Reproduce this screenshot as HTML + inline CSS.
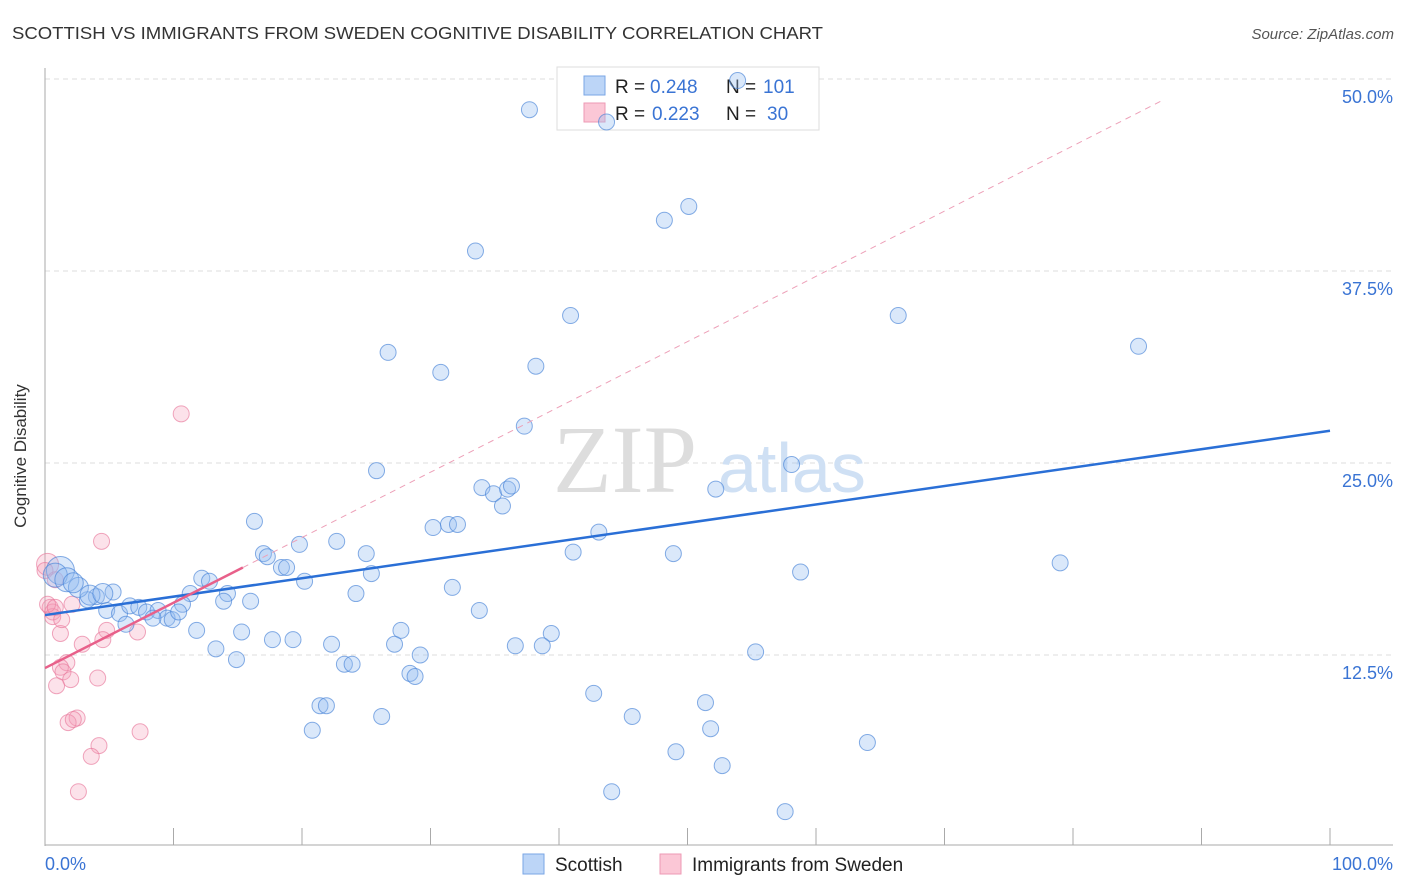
<!DOCTYPE html>
<html><head><meta charset="utf-8"><style>
body{margin:0;background:#fff;font-family:"Liberation Sans",sans-serif;}
svg{display:block}
</style></head><body>
<svg id="chart" width="1406" height="892" viewBox="0 0 1406 892">
<text x="12" y="39" font-size="17.5" fill="#333" textLength="811" lengthAdjust="spacingAndGlyphs">SCOTTISH VS IMMIGRANTS FROM SWEDEN COGNITIVE DISABILITY CORRELATION CHART</text>
<text x="1394" y="39" font-size="15" fill="#555" font-style="italic" text-anchor="end">Source: ZipAtlas.com</text>
<g id="grid"></g>
<g><text x="553" y="492" font-size="96" font-family="Liberation Serif" fill="#ddd">ZIP</text><text x="718" y="492" font-size="70" fill="#cfe0f4">atlas</text></g>
<line x1="45" y1="68" x2="45" y2="846" stroke="#aaa"/>
<line x1="45" y1="845" x2="1393" y2="845" stroke="#aaa"/>
<g id="ticks"></g>
<text x="26" y="456" font-size="17" fill="#333" transform="rotate(-90 26 456)" text-anchor="middle">Cognitive Disability</text>
<text x="45" y="870" font-size="18" fill="#3a74d4">0.0%</text>
<text x="1393" y="870" font-size="18" fill="#3a74d4" text-anchor="end">100.0%</text>
<g>
<rect x="557" y="67" width="262" height="63" fill="#fff" stroke="#ddd"/>
<rect x="584" y="76" width="21" height="19" fill="#bcd5f7" stroke="#7aa6e6"/>
<rect x="584" y="103" width="21" height="19" fill="#fbc7d6" stroke="#ee9ab4"/>
<text x="615" y="93" font-size="19" fill="#222">R =</text><text x="650" y="93" font-size="19" fill="#3a74d4">0.248</text>
<text x="726" y="93" font-size="19" fill="#222">N =</text><text x="763" y="93" font-size="19" fill="#3a74d4">101</text>
<text x="615" y="120" font-size="19" fill="#222">R =</text><text x="652" y="120" font-size="19" fill="#3a74d4">0.223</text>
<text x="726" y="120" font-size="19" fill="#222">N =</text><text x="767" y="120" font-size="19" fill="#3a74d4">30</text>
</g>
<g id="pts"></g>
<g id="trend"></g>
<g>
<rect x="523" y="854" width="21" height="20" fill="#bcd5f7" stroke="#7aa6e6"/>
<text x="555" y="871" font-size="19" fill="#222">Scottish</text>
<rect x="660" y="854" width="21" height="20" fill="#fbc7d6" stroke="#ee9ab4"/>
<text x="692" y="871" font-size="19" fill="#222">Immigrants from Sweden</text>
</g>
</svg>
<script>
const yTicks=[12.5,25,37.5,50];
const yTickLabels=["12.5%","25.0%","37.5%","50.0%"];
const xTicks=[10,20,30,40,50,60,70,80,90,100];
const blueX=[37.7,53.9,43.7,50.1,48.2,33.5,40.9,66.4,85.1,26.7,38.2,30.8,37.3,25.8,58.1,34.0,34.9,36.0,36.3,35.6,52.2,16.3,30.2,31.4,32.1,43.1,19.8,22.7,17.0,17.3,25.0,41.1,48.9,79.0,18.4,18.8,25.4,58.8,20.2,12.2,12.8,11.3,14.2,24.2,31.7,16.0,13.9,10.7,5.3,4.0,3.3,4.8,5.8,6.6,7.3,7.9,8.8,9.5,8.4,9.9,10.4,6.3,11.8,15.3,27.7,33.8,39.4,17.7,19.3,22.3,27.2,36.6,38.7,13.3,29.2,55.3,14.9,23.3,23.9,28.4,28.8,42.7,51.4,21.4,21.9,26.2,45.7,51.8,20.8,64.0,49.1,52.7,44.1,57.6,1.2,0.8,1.7,2.6,3.5,4.5,2.2];
const blueY=[48.0,49.9,47.2,41.7,40.8,38.8,34.6,34.6,32.6,32.2,31.3,30.9,27.4,24.5,24.9,23.4,23.0,23.3,23.5,22.2,23.3,21.2,20.8,21.0,21.0,20.5,19.7,19.9,19.1,18.9,19.1,19.2,19.1,18.5,18.2,18.2,17.8,17.9,17.3,17.5,17.3,16.5,16.5,16.5,16.9,16.0,16.0,15.8,16.6,16.3,16.1,15.4,15.2,15.7,15.6,15.3,15.4,14.9,14.9,14.8,15.3,14.5,14.1,14.0,14.1,15.4,13.9,13.5,13.5,13.2,13.2,13.1,13.1,12.9,12.5,12.7,12.2,11.9,11.9,11.3,11.1,10.0,9.4,9.2,9.2,8.5,8.5,7.7,7.6,6.8,6.2,5.3,3.6,2.3,18.0,17.7,17.4,16.9,16.4,16.5,17.2];
const pinkX=[10.6,4.4,0.2,0.4,0.6,0.6,2.1,1.2,4.8,4.5,7.2,2.9,1.7,1.2,1.4,4.1,2.0,0.9,2.5,1.8,2.2,7.4,4.2,3.6,2.6,0.2,0.8,1.3,0.0,0.8];
const pinkY=[28.2,19.9,18.4,15.6,15.3,15.0,15.8,13.9,14.1,13.5,14.0,13.2,12.0,11.7,11.4,11.0,10.9,10.5,8.4,8.1,8.3,7.5,6.6,5.9,3.6,15.8,15.6,14.8,18.0,17.4];
const blueTrend=[15.1,27.1];
const pinkTrend=[11.65,0.425];
const xs=v=>45+v*12.85, ys=v=>847-v*15.36;
const NS="http://www.w3.org/2000/svg";
function mk(tag,attrs,parent){const e=document.createElementNS(NS,tag);for(const k in attrs)e.setAttribute(k,attrs[k]);document.getElementById(parent).appendChild(e);return e;}
yTicks.forEach((t,i)=>{
 const l=mk('line',{x1:45,x2:1393,y1:ys(t),y2:ys(t),stroke:'#ddd','stroke-dasharray':'5,4'},'grid');
 
 
 const tx=mk('text',{x:1393,y:ys(t)+24,'font-size':18,fill:'#3a74d4','text-anchor':'end'},'grid');
 tx.textContent=yTickLabels[i];
 
 
});
xTicks.forEach(t=>{
 const l=mk('line',{x1:xs(t),x2:xs(t),y1:828,y2:845,stroke:'#aaa'},'ticks');
 
 
});
pinkX.forEach((x,i)=>{
 const c=mk('circle',{cx:xs(x),cy:ys(pinkY[i]),r:i==2?11:8,fill:'rgba(246,160,186,0.3)',stroke:'rgba(232,120,155,0.65)','stroke-width':1},'pts');
 
 
});
blueX.forEach((x,i)=>{
 const j=i-(blueX.length-7);
 const r=j>=0&&j<3?[14,12,12][j]:(j>=3?10:8);
 const c=mk('circle',{cx:xs(x),cy:ys(blueY[i]),r:r,fill:'rgba(150,190,240,0.35)',stroke:'rgba(70,130,215,0.65)','stroke-width':1},'pts');
 
 
});
let l=mk('line',{x1:xs(0),y1:ys(blueTrend[0]),x2:xs(100),y2:ys(blueTrend[1]),stroke:'#2a6fd6','stroke-width':2.5},'trend');


l=mk('line',{x1:xs(0),y1:ys(pinkTrend[0]),x2:xs(15.4),y2:ys(pinkTrend[0]+pinkTrend[1]*15.4),stroke:'#e8608a','stroke-width':2.5},'trend');


l=mk('line',{x1:xs(15.4),y1:ys(pinkTrend[0]+pinkTrend[1]*15.4),x2:xs(86.8),y2:ys(pinkTrend[0]+pinkTrend[1]*86.8),stroke:'#eda0b8','stroke-width':1,'stroke-dasharray':'6,5'},'trend');


</script>
</body></html>
